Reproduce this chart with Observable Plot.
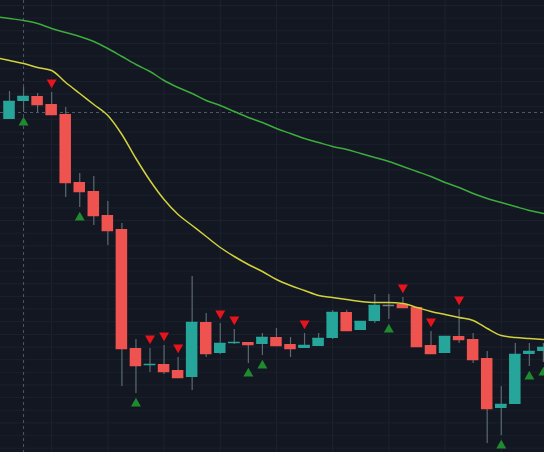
<!DOCTYPE html>
<html>
<head>
<meta charset="utf-8">
<script src="https://cdn.jsdelivr.net/npm/d3@7"></script>
<script src="https://cdn.jsdelivr.net/npm/@observablehq/plot@0.6"></script>
<style>
  html, body { margin: 0; padding: 0; background: #131722; }
  #chart svg { display: block; }
</style>
</head>
<body>
<div id="chart"></div>
<script>
// Candles (index 0..38)
const opens  = [138.1,139.9,140.4,139.6,138.6,131.8,130.9,128.5,127.1,115.2,113.5,113.6,113.0,112.3,117.8,114.7,115.7,115.8,115.6,116.3,115.6,115.2,115.4,116.2,118.8,117.0,117.9,119.5,119.6,119.3,115.5,114.7,116.4,116.1,114.2,109.2,109.6,114.6,114.9];
const highs  = [140.9,141.3,140.7,140.8,139.3,132.7,132.4,129.9,127.7,116.1,115.2,115.5,114.3,122.4,118.7,117.7,117.1,115.8,116.7,117.2,116.3,116.7,116.7,119.0,119.0,117.9,120.6,120.6,120.3,119.3,116.9,116.4,119.1,116.7,114.9,111.4,115.7,115.7,115.7];
const lows   = [138.1,138.8,138.8,138.6,130.3,129.3,127.5,125.5,111.4,110.7,112.8,112.6,112.3,111.0,114.3,114.6,115.6,113.7,114.5,115.5,114.3,115.2,115.4,116.1,117.0,117.0,117.7,118.1,119.3,115.4,114.7,114.7,115.7,113.7,105.7,106.5,109.6,113.4,113.8];
const closes = [139.9,140.4,139.6,138.6,131.8,130.9,128.5,127.0,115.2,113.5,113.6,112.9,112.3,117.8,114.7,115.7,115.8,115.6,116.3,115.5,115.2,115.5,116.2,118.8,117.0,117.9,119.5,119.5,119.3,115.4,114.7,116.4,116.1,114.1,109.2,109.6,114.6,114.9,115.3];

// Moving averages (index -1..38)
const maIndex = [-1,0,1,2,3,4,5,6,7,8,9,10,11,12,13,14,15,16,17,18,19,20,21,22,23,24,25,26,27,28,29,30,31,32,33,34,35,36,37,38];
const maFast = [144.3,144.0,143.7,143.3,143.0,141.8,140.7,139.6,138.5,136.6,134.2,132.0,130.1,128.6,127.5,126.4,125.3,124.4,123.6,122.9,122.1,121.5,121.0,120.5,120.3,120.1,119.9,119.8,119.8,119.7,119.3,118.9,118.6,118.3,118.0,117.2,116.5,116.3,116.2,116.1];
const maSlow = [148.4,148.2,148.0,147.7,147.2,146.8,146.4,145.9,145.2,144.4,143.6,142.9,142.0,141.3,140.7,140.0,139.5,138.9,138.3,137.8,137.2,136.7,136.2,135.8,135.4,135.1,134.7,134.3,133.9,133.4,132.9,132.4,131.8,131.3,130.7,130.2,129.8,129.4,129.0,128.7];

// Signals
const sellSignals = [3,10,11,12,15,16,21,28,30,32];
const buySignals  = [1,5,9,17,18,27,35,37,38];

// Grid and crosshair
const gridCandles = [-1,3,7,11,15,19,23,27,31,35];
const gridPrices = [149.5,148.24,146.97,145.71,144.44,143.18,141.91,140.65,139.38,138.12,136.85,135.59,134.32,133.06,131.79,130.53,129.26,128.0,126.73,125.47,124.2,122.94,121.67,120.41,119.14,117.88,116.61,115.35,114.08,112.82,111.55,110.29,109.02,107.76,106.49,105.23];
const crossIndex = 1;
const crossPrice = 138.8;

const UP = "#26a69a", DOWN = "#ef5350", FLAT = "#7a8088";
const candles = opens.map((o, i) => ({i, open: o, high: highs[i], low: lows[i], close: closes[i]}));
const ma = maIndex.map((i, k) => ({i, fast: maFast[k], slow: maSlow[k]}));
const sells = sellSignals.map(i => candles[i]);
const buys = buySignals.map(i => candles[i]);
const col = d => d.close > d.open ? UP : d.close < d.open ? DOWN : FLAT;
const half = 0.41;

const triDown = {
  draw(ctx, size) {
    const y = Math.sqrt(size / (3 * Math.sqrt(3)));
    ctx.moveTo(0, 2 * y);
    ctx.lineTo(-Math.sqrt(3) * y, -y);
    ctx.lineTo(Math.sqrt(3) * y, -y);
    ctx.closePath();
  }
};

const chart = Plot.plot({
  width: 544,
  height: 452,
  margin: 0,
  style: {background: "#131722"},
  x: {type: "linear", domain: [-0.6406, 38.078], axis: null},
  y: {domain: [104.8, 150], axis: null},
  marks: [
    Plot.gridX(gridCandles, {stroke: "#1c2330", strokeOpacity: 1}),
    Plot.gridY(gridPrices, {stroke: "#1a212d", strokeOpacity: 1}),
    Plot.ruleY([crossPrice], {stroke: "#4d5866", strokeDasharray: "3,3"}),
    Plot.ruleX([crossIndex], {stroke: "#4d5866", strokeDasharray: "3,3"}),
    Plot.ruleX(candles, {x: "i", y1: "low", y2: "high", stroke: "#5a6a70", strokeWidth: 1.2}),
    Plot.rect(candles, {x1: d => d.i - half, x2: d => d.i + half, y1: "open", y2: "close", fill: col}),
    Plot.ruleY(candles, {y: "close", x1: d => d.i - half, x2: d => d.i + half, stroke: col, strokeWidth: 1.5}),
    Plot.line(ma, {x: "i", y: "slow", stroke: "#3dab3d", strokeWidth: 1.5, curve: "monotone-x", clip: true}),
    Plot.line(ma, {x: "i", y: "fast", stroke: "#d2d23c", strokeWidth: 1.5, curve: "monotone-x", clip: true}),
    Plot.dot(sells, {x: "i", y: "high", dy: -10, symbol: triDown, r: 3.7, fill: "#e8141c", stroke: "none"}),
    Plot.dot(buys, {x: "i", y: "low", dy: 10, symbol: "triangle", r: 3.7, fill: "#1f8a2e", stroke: "none"})
  ]
});
document.getElementById("chart").appendChild(chart);
</script>
</body>
</html>
